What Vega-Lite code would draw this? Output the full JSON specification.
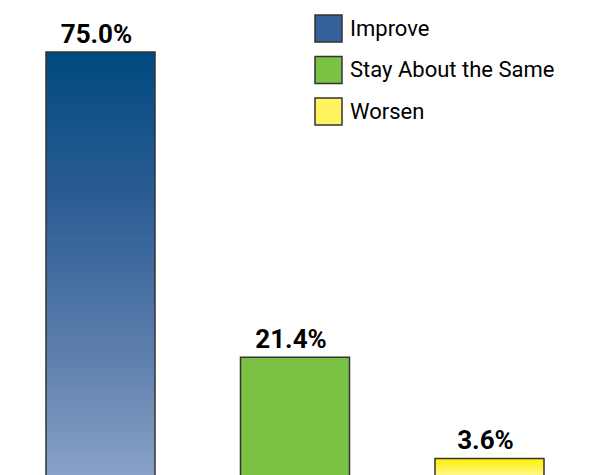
{
  "$schema": "https://vega.github.io/schema/vega-lite/v6.json",
  "width": 590,
  "height": 475,
  "autosize": {"type": "none"},
  "padding": {"left": 0, "top": 0, "right": 11, "bottom": 0},
  "background": "white",
  "config": {"view": {"stroke": null}, "font": "Roboto"},
  "data": {
    "values": [
      {"outlook": "Improve", "share": 0.75},
      {"outlook": "Stay About the Same", "share": 0.214},
      {"outlook": "Worsen", "share": 0.036}
    ]
  },
  "encoding": {
    "x": {
      "field": "outlook", "type": "nominal", "sort": null, "axis": null,
      "scale": {"paddingInner": 0.4396, "paddingOuter": 0.2365}
    },
    "y": {
      "field": "share", "type": "quantitative", "axis": null,
      "scale": {"domain": [0.007, 0.8414], "zero": false, "nice": false}
    }
  },
  "layer": [
    {
      "mark": {"type": "bar", "stroke": "#333333", "strokeWidth": 1.5, "clip": true},
      "encoding": {
        "y2": {"datum": 0},
        "fill": {
          "condition": [
            {"test": "datum.outlook === 'Improve'", "value": {"gradient": "linear", "x1": 0, "y1": 0, "x2": 0, "y2": 1, "stops": [
                {"offset": 0, "color": "#004a80"},
                {"offset": 0.35, "color": "#2c5d94"},
                {"offset": 0.7, "color": "#5c7eac"},
                {"offset": 1, "color": "#8aa2c8"}
              ]}},
            {"test": "datum.outlook === 'Worsen'", "value": {"gradient": "linear", "x1": 0, "y1": 0, "x2": 0, "y2": 1, "stops": [
                {"offset": 0, "color": "#fff000"},
                {"offset": 1, "color": "#fff8a8"}
              ]}}
          ],
          "value": "#7bc143"
        }
      }
    },
    {
      "mark": {"type": "square", "filled": true, "opacity": 0, "size": 729, "stroke": "#333333", "strokeWidth": 1.5},
      "encoding": {
        "color": {
          "field": "outlook", "type": "nominal",
          "scale": {
            "domain": ["Improve", "Stay About the Same", "Worsen"],
            "range": ["#34619a", "#7bc143", "#fff45e"]
          },
          "legend": {
            "orient": "none",
            "legendX": 314,
            "legendY": 14,
            "title": null,
            "padding": 0,
            "symbolType": "square",
            "symbolSize": 729,
            "symbolStrokeColor": "#333333",
            "symbolStrokeWidth": 1.5,
            "symbolOpacity": 1,
            "labelFont": "Roboto",
            "labelFontSize": 22,
            "labelColor": "black",
            "labelOffset": 7,
            "rowPadding": 8.5,
            "labelLimit": 300
          }
        }
      }
    },
    {
      "mark": {"type": "text", "font": "Roboto", "fontWeight": "bold", "fontSize": 26, "color": "black", "baseline": "alphabetic", "dy": -9, "dx": -4},
      "encoding": {
        "text": {"field": "share", "type": "quantitative", "format": ".1%"}
      }
    }
  ]
}
